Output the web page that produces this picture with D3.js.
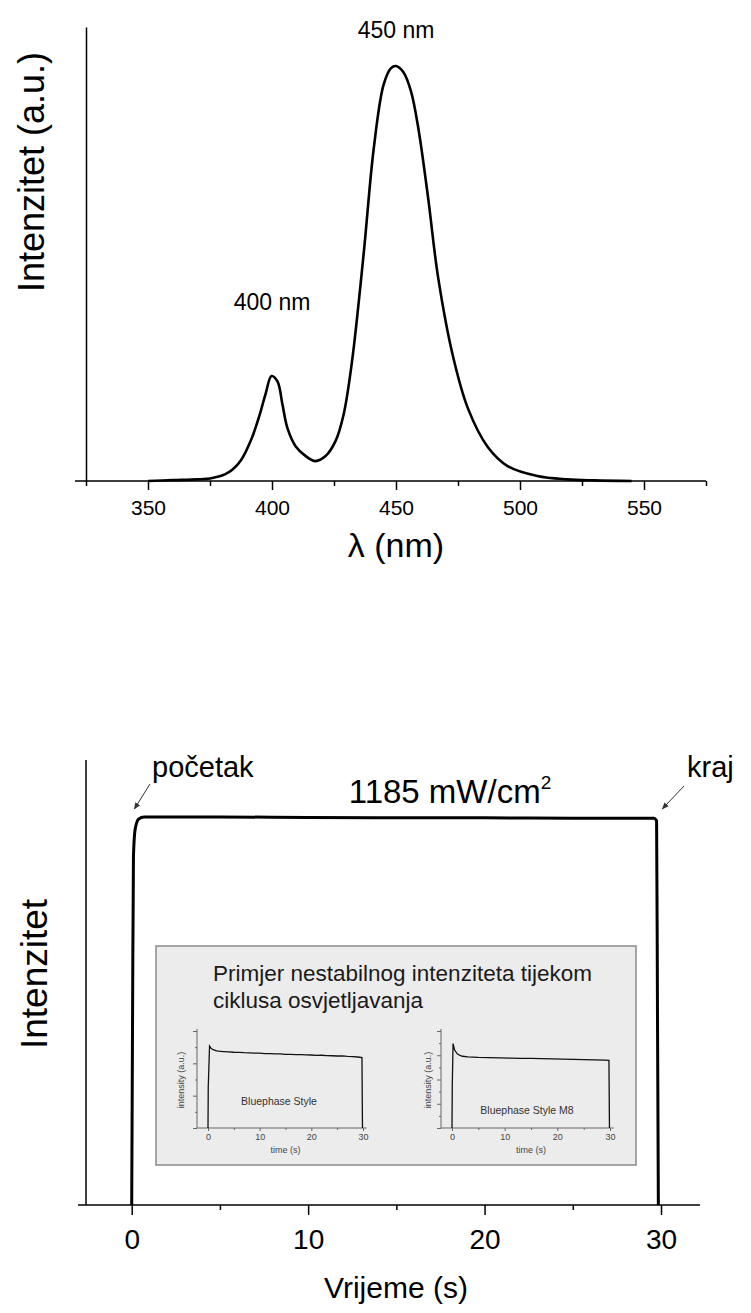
<!DOCTYPE html>
<html><head><meta charset="utf-8">
<script src="https://cdn.jsdelivr.net/npm/d3@7/dist/d3.min.js"></script>
<style>body{margin:0;background:#fff}text{font-family:"Liberation Sans",Arial,sans-serif}</style>
</head><body><svg id="c" width="751" height="1313"></svg>
<script>
// ---- spectrum data ----
const specWl  = [350,360,370,375,378,381,384,387.5,391.5,394.8,397.5,399.8,402.2,404.2,406.2,409.5,413.6,417.5,421.6,425.6,428.9,432.3,437,441,445,448,450,453,456,459,463,467,473,479,487,495,507,519,530,545];
const specInt = [0,0.002,0.004,0.006,0.01,0.016,0.027,0.05,0.098,0.155,0.212,0.253,0.24,0.185,0.128,0.084,0.06,0.048,0.06,0.096,0.161,0.29,0.55,0.80,0.955,0.995,1.0,0.985,0.94,0.85,0.68,0.49,0.30,0.175,0.082,0.036,0.012,0.004,0.0015,0];
const specMajor = [350,400,450,500,550];
const specMinor = [325,375,425,475,525,575];
const peakLabels = [{wl:450, v:1.0, text:"450 nm", dy:-28},{wl:400, v:0.253, text:"400 nm", dy:-66}];

// ---- pulse data ----
const pulseT = [0,0.05,0.1,0.2,0.4,0.7,5,10,15,20,25,29.6,29.75,29.8,29.85];
const pulseI = [0,0.5,0.9,0.97,0.995,1.0,1.0,0.999,0.998,0.998,0.997,0.997,0.99,0.5,0];
const pulseMajor = [0,10,20,30];
const pulseMinor = [5,15,25];

// ---- inset data ----
const insetAT = [0,0.05,0.3,0.6,1,1.5,2,3,4,5,6,7,8,9,10,11,12,13,14,15,16,17,18,19,20,21,22,23,24,25,26,27,28,29,29.8,29.85,29.9];
const insetAI = [0,0.5,1.0,0.972,0.955,0.945,0.937,0.932,0.928,0.924,0.922,0.918,0.917,0.913,0.912,0.908,0.907,0.903,0.904,0.899,0.898,0.894,0.895,0.891,0.89,0.886,0.887,0.883,0.881,0.878,0.879,0.874,0.871,0.866,0.86,0.4,0];
const insetBT = [0,0.05,0.2,0.5,1,1.5,2,3,4,5,7,9,11,13,15,17,19,21,23,25,27,29,29.8,29.85,29.9];
const insetBI = [0,0.5,1.03,0.95,0.905,0.885,0.875,0.868,0.864,0.861,0.858,0.855,0.852,0.85,0.848,0.845,0.843,0.84,0.838,0.835,0.832,0.828,0.825,0.4,0];
const insetTicks = [0,10,20,30];
const insetMinor = [5,15,25];

const svg = d3.select("#c");
const F = '"Liberation Sans",Arial,sans-serif';

// ================= TOP CHART =================
const xT = d3.scaleLinear().domain([325,575]).range([86,706]);
const yT = d3.scaleLinear().domain([0,1.094]).range([481,27]);
const gT = svg.append("g");
gT.append("line").attr("x1",75).attr("x2",xT(575)).attr("y1",yT(0)).attr("y2",yT(0)).attr("stroke","#000").attr("stroke-width",1.5);
gT.append("g").attr("transform",`translate(0,${yT(0)})`)
  .call(d3.axisBottom(xT).tickValues(specMajor).tickSize(9).tickSizeOuter(0).tickPadding(10).tickFormat(d3.format("d")))
  .call(g=>{g.select(".domain").remove();g.selectAll("line").attr("stroke-width",1.5);g.selectAll("text").attr("font-size",21).attr("font-family",F).attr("fill","#000");});
gT.append("g").attr("transform",`translate(0,${yT(0)})`)
  .call(d3.axisBottom(xT).tickValues(specMinor).tickSize(5).tickSizeOuter(0).tickFormat(""))
  .call(g=>{g.select(".domain").remove();g.selectAll("line").attr("stroke-width",1.5);});
gT.append("g").attr("transform",`translate(${xT(325)},0)`)
  .call(d3.axisLeft(yT).tickValues([]).tickSizeOuter(0))
  .call(g=>g.select(".domain").attr("stroke-width",1.5));
const specData = specWl.map((w,i)=>[w,specInt[i]]);
gT.append("path").datum(specData)
  .attr("d", d3.line().x(d=>xT(d[0])).y(d=>yT(d[1])).curve(d3.curveCatmullRom.alpha(0.5)))
  .attr("fill","none").attr("stroke","#000").attr("stroke-width",2.6).attr("stroke-linejoin","round");
gT.selectAll(".pk").data(peakLabels).join("text")
  .attr("x",d=>xT(d.wl)).attr("y",d=>yT(d.v)+d.dy)
  .attr("text-anchor","middle").attr("font-size",23).text(d=>d.text);
gT.append("text").attr("x",xT(450)).attr("y",557).attr("text-anchor","middle").attr("font-size",34).text("λ (nm)");
gT.append("text").attr("transform",`translate(44,172) rotate(-90)`).attr("text-anchor","middle").attr("font-size",36).text("Intenzitet (a.u.)");

// ================= BOTTOM CHART =================
const xB = d3.scaleLinear().domain([0,30]).range([131.7,661]);
const yB = d3.scaleLinear().domain([0,1]).range([1205,817]);
const gB = svg.append("g");
gB.append("line").attr("x1",78).attr("x2",700).attr("y1",yB(0)).attr("y2",yB(0)).attr("stroke","#000").attr("stroke-width",1.5);
gB.append("g").attr("transform",`translate(0,${yB(0)})`)
  .call(d3.axisBottom(xB).tickValues(pulseMajor).tickSize(10).tickSizeOuter(0).tickPadding(14))
  .call(g=>{g.select(".domain").remove();g.selectAll("line").attr("stroke-width",1.5);g.selectAll("text").attr("font-size",28).attr("font-family",F).attr("fill","#000");});
gB.append("g").attr("transform",`translate(0,${yB(0)})`)
  .call(d3.axisBottom(xB).tickValues(pulseMinor).tickSize(5).tickSizeOuter(0).tickFormat(""))
  .call(g=>{g.select(".domain").remove();g.selectAll("line").attr("stroke-width",1.5);});
gB.append("line").attr("x1",86).attr("x2",86).attr("y1",760).attr("y2",yB(0)).attr("stroke","#000").attr("stroke-width",1.5);

// inset box
gB.append("rect").attr("x",156).attr("y",946).attr("width",480).attr("height",219).attr("fill","#ececec").attr("stroke","#8a8a8a").attr("stroke-width",1.5);
gB.append("text").attr("x",213).attr("y",981).attr("font-size",22.5).attr("fill","#1a1a1a").text("Primjer nestabilnog intenziteta tijekom");
gB.append("text").attr("x",213).attr("y",1008).attr("font-size",22.5).attr("fill","#1a1a1a").text("ciklusa osvjetljavanja");

const IX = 1128;
function inset(x0, x30, axisX, yTop, nTicks, T, I, label, lx, ly, ylabX){
  const xs = d3.scaleLinear().domain([0,30]).range([x0,x30]);
  const ys = d3.scaleLinear().domain([0,1]).range([IX,1046]);
  const tk = d3.scaleLinear().domain([0,nTicks]).range([IX,yTop]);
  const g = gB.append("g");
  g.append("line").attr("x1",axisX).attr("x2",xs(30.7)).attr("y1",IX).attr("y2",IX).attr("stroke","#666").attr("stroke-width",1);
  g.append("line").attr("x1",axisX).attr("x2",axisX).attr("y1",yTop-2).attr("y2",IX).attr("stroke","#666").attr("stroke-width",1);
  g.append("g").attr("transform",`translate(0,${IX})`)
   .call(d3.axisBottom(xs).tickValues(insetTicks).tickSize(3).tickSizeOuter(0).tickPadding(3))
   .call(a=>{a.select(".domain").remove();a.selectAll("line").attr("stroke","#666");a.selectAll("text").attr("font-size",9).attr("font-family",F).attr("fill","#444");});
  g.append("g").attr("transform",`translate(0,${IX})`)
   .call(d3.axisBottom(xs).tickValues(insetMinor).tickSize(2).tickSizeOuter(0).tickFormat(""))
   .call(a=>{a.select(".domain").remove();a.selectAll("line").attr("stroke","#666");});
  g.append("g").attr("transform",`translate(${axisX},0)`)
   .call(d3.axisLeft(tk).tickValues(d3.range(0,nTicks+1)).tickSize(3).tickFormat(""))
   .call(a=>{a.select(".domain").remove();a.selectAll("line").attr("stroke","#666").attr("x2",(d)=>d%2?-2:-4);});
  g.append("path").datum(T.map((t,i)=>[t,I[i]]))
   .attr("d",d3.line().x(d=>xs(d[0])).y(d=>ys(d[1])))
   .attr("fill","none").attr("stroke","#111").attr("stroke-width",1.3);
  g.append("text").attr("x",lx).attr("y",ly).attr("text-anchor","middle").attr("font-size",10.5).attr("fill","#333").text(label);
  g.append("text").attr("x",(x0+x30)/2).attr("y",IX+25).attr("text-anchor","middle").attr("font-size",9).attr("fill","#444").text("time (s)");
  g.append("text").attr("transform",`translate(${ylabX},1080) rotate(-90)`).attr("text-anchor","middle").attr("font-size",9).attr("fill","#444").text("intensity (a.u.)");
}
inset(208,363,197,1031,6,insetAT,insetAI,"Bluephase Style",279,1105,184);
inset(452,610,441,1031,8,insetBT,insetBI,"Bluephase Style M8",527,1114,431);

// main pulse line
gB.append("path").datum(pulseT.map((t,i)=>[t,pulseI[i]]))
  .attr("d",d3.line().x(d=>xB(d[0])).y(d=>yB(d[1])).curve(d3.curveMonotoneX))
  .attr("fill","none").attr("stroke","#000").attr("stroke-width",3).attr("stroke-linejoin","round");

// annotations
gB.append("text").attr("x",152).attr("y",777).attr("font-size",29).text("početak");
gB.append("text").attr("x",687).attr("y",777).attr("font-size",29).text("kraj");
const t1185 = gB.append("text").attr("x",450).attr("y",803).attr("text-anchor","middle").attr("font-size",33);
t1185.append("tspan").text("1185 mW/cm");
t1185.append("tspan").attr("dy",-14).attr("font-size",19).text("2");
svg.append("defs").append("marker").attr("id","ah").attr("viewBox","0 0 10 10").attr("refX",9).attr("refY",5)
  .attr("markerWidth",7).attr("markerHeight",7).attr("orient","auto")
  .append("path").attr("d","M0,1 L10,5 L0,9 z").attr("fill","#333");
gB.append("line").attr("x1",150).attr("y1",784).attr("x2",xB(0.15)).attr("y2",809).attr("stroke","#333").attr("stroke-width",1).attr("marker-end","url(#ah)");
gB.append("line").attr("x1",684).attr("y1",786).attr("x2",xB(29.9)+3).attr("y2",809).attr("stroke","#333").attr("stroke-width",1).attr("marker-end","url(#ah)");

gB.append("text").attr("x",396).attr("y",1298).attr("text-anchor","middle").attr("font-size",30).text("Vrijeme (s)");
gB.append("text").attr("transform",`translate(47,974) rotate(-90)`).attr("text-anchor","middle").attr("font-size",37).text("Intenzitet");
</script></body></html>
